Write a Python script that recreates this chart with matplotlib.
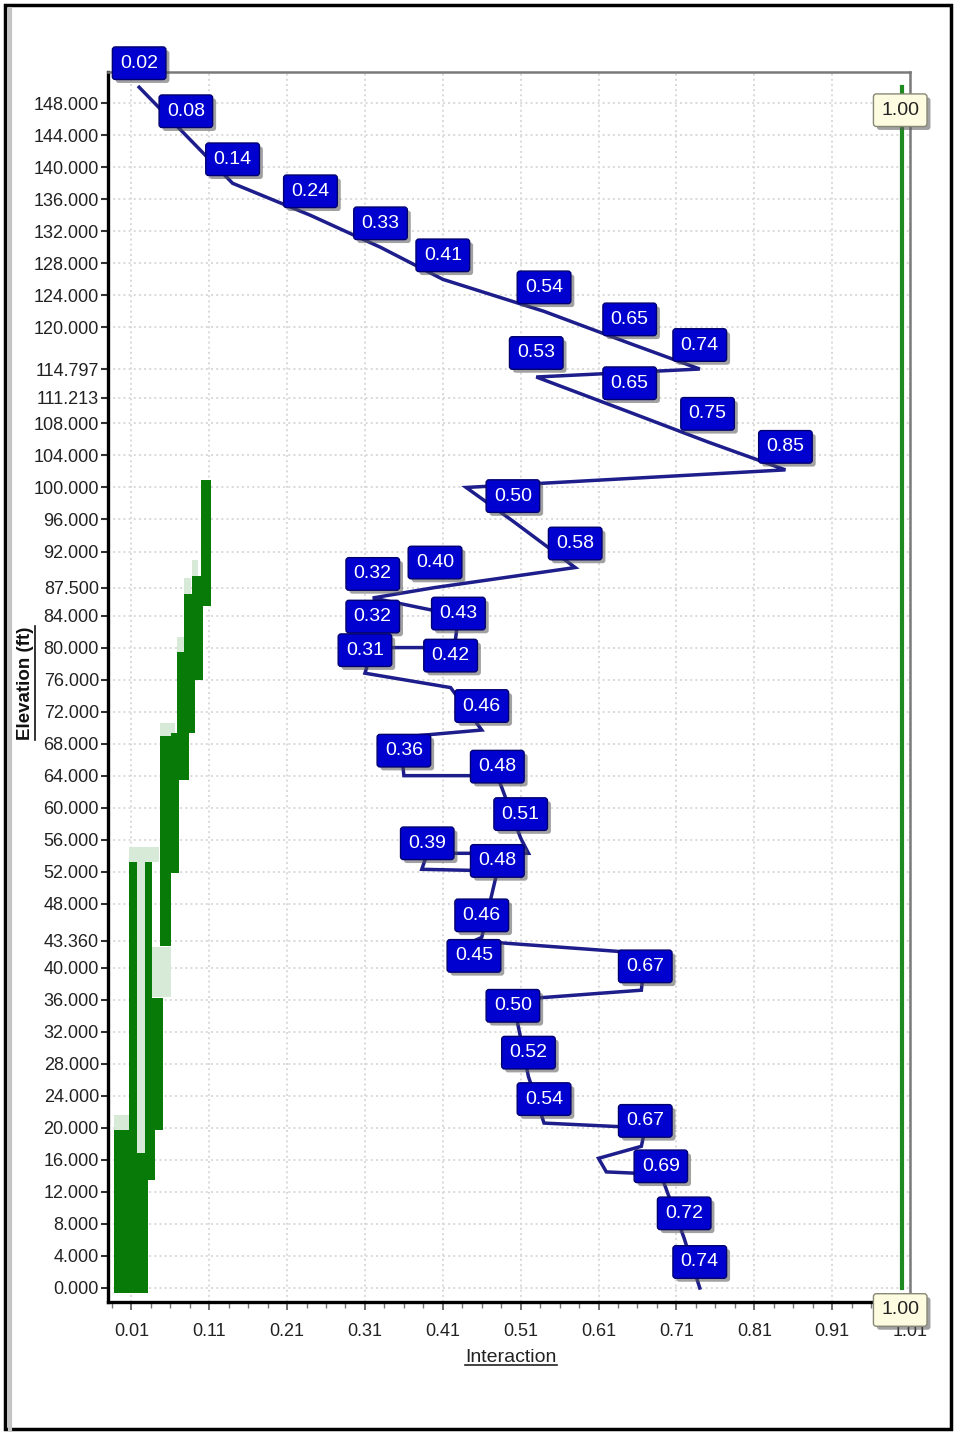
import matplotlib
matplotlib.use('Agg')
import matplotlib.pyplot as plt
import matplotlib.patheffects as pe
from matplotlib.patches import Rectangle
from matplotlib.lines import Line2D
import numpy as np

# interaction ratio along the elevation, top to bottom
ratio = [0.02, 0.08, 0.14, 0.24, 0.33, 0.41, 0.54, 0.65, 0.74, 0.53,
         0.65, 0.75, 0.85, 0.44, 0.50, 0.58, 0.40, 0.32, 0.43, 0.425,
         0.32, 0.31, 0.42, 0.46, 0.355, 0.36, 0.48, 0.51, 0.52, 0.39, 0.383,
         0.48, 0.46, 0.45, 0.67, 0.665, 0.50, 0.52, 0.54, 0.67, 0.665,
         0.61, 0.62, 0.69, 0.72, 0.74]
elev = [150.0, 144.0, 138.0, 134.0, 130.0, 126.0, 122.0, 118.0, 114.797, 113.8,
        109.4, 105.7, 102.2, 100.0, 95.8, 90.0, 87.5, 86.2, 84.0, 80.0,
        80.0, 76.8, 75.0, 69.7, 68.8, 64.0, 64.0, 56.2, 54.3, 54.3, 52.3,
        52.1, 43.8, 43.36, 41.8, 37.2, 36.0, 26.4, 20.6, 20.0, 17.7,
        16.2, 14.5, 14.2, 6.2, 0.0]
labelled = [1, 1, 1, 1, 1, 1, 1, 1, 1, 1,
            1, 1, 1, 0, 1, 1, 1, 1, 1, 0,
            1, 1, 1, 1, 0, 1, 1, 1, 0, 1, 0,
            1, 1, 1, 1, 0, 1, 1, 1, 1, 0,
            0, 0, 1, 1, 1]

# allowable line (unity)
limit_x = [1.0, 1.0]
limit_elev = [0.0, 150.0]

# structure profile drawn in green: elevation from/to, interaction from/to
dark_lo = [-0.6, -0.6, 19.7, 13.5, 19.7, 36.2, 42.7, 51.8, 63.4, 63.4, 69.3, 75.9, 85.2]
dark_hi = [19.7, 16.9, 53.2, 19.7, 36.2, 53.2, 68.9, 69.3, 69.3, 79.4, 86.7, 89.0, 100.9]
dark_x0 = [-0.012, 0.0177, 0.0074, 0.027, 0.027, 0.027, 0.0473, 0.0615, 0.0615, 0.0692, 0.0782, 0.0885, 0.0988]
dark_x1 = [0.0177, 0.032, 0.0177, 0.0409, 0.0512, 0.037, 0.0615, 0.0718, 0.0834, 0.0821, 0.0911, 0.1014, 0.1117]

pale_lo = [16.9, 53.2, 36.3, 19.7, 68.9, 79.4, 86.7, 89.0]
pale_hi = [53.2, 55.1, 42.6, 21.6, 70.6, 81.3, 88.7, 90.9]
pale_x0 = [0.0177, 0.0074, 0.037, -0.012, 0.0473, 0.0692, 0.0782, 0.0885]
pale_x1 = [0.027, 0.046, 0.0615, 0.0074, 0.066, 0.077, 0.087, 0.096]

yticks = [0, 4, 8, 12, 16, 20, 24, 28, 32, 36, 40, 43.36, 48, 52, 56, 60, 64, 68,
          72, 76, 80, 84, 87.5, 92, 96, 100, 104, 108, 111.213, 114.797, 120, 124,
          128, 132, 136, 140, 144, 148]
xticks = np.arange(0.01, 1.02, 0.1)

# label offsets (pixels above the point)
lab_dy = [24, 24, 24, 24, 24, 24, 24, 24, 24, 24,
          29, 28, 23, 0, 25, 24, 25, 24, 2, 0,
          31, 23, 32, 24, 0, 25, 9, 24, 0, 10, 0,
          10, 22, -15, -13, 0, -6, 24, 24, 7, 0,
          0, 0, 8, 25, 26]

FONT = ['Liberation Sans', 'DejaVu Sans']
plt.rcParams['font.family'] = FONT

W, H = 955, 1433
fig = plt.figure(figsize=(W / 100, H / 100), dpi=100)
fig.patch.set_facecolor('white')
ax = fig.add_axes([108 / W, 1 - 1302 / H, (910 - 108) / W, (1302 - 72) / H])

ax.set_xlim(-0.02, 1.01)
ax.set_ylim(-1.75, 151.9)

# green profile
ax.barh(pale_lo, np.subtract(pale_x1, pale_x0), height=np.subtract(pale_hi, pale_lo),
        left=pale_x0, align='edge', color='#d7ead8', zorder=1)
ax.barh(dark_lo, np.subtract(dark_x1, dark_x0), height=np.subtract(dark_hi, dark_lo),
        left=dark_x0, align='edge', color='#077a07', zorder=2)

# unity line
ax.plot(limit_x, limit_elev, color='#1f8a1f', lw=3, zorder=3)

# interaction line
ax.plot(ratio, elev, color='#1d1d8c', lw=2.5, zorder=4, solid_joinstyle='miter')

shadow = [pe.withSimplePatchShadow(offset=(2.5, -2.5), shadow_rgbFace='#555555', alpha=0.55)]
box_style = 'round,pad=0.4,rounding_size=0.15'
for i, (r, e) in enumerate(zip(ratio, elev)):
    if not labelled[i]:
        continue
    t = ax.annotate('%.2f' % r, (r, e), xytext=(0, lab_dy[i]),
                    textcoords='offset pixels', ha='center', va='center',
                    color='white', fontsize=14, zorder=6,
                    bbox=dict(boxstyle=box_style, fc='#0000cf', ec='#000070', lw=1.0))
    t.get_bbox_patch().set_path_effects(shadow)

for e, dy in zip(limit_elev, [-22, -23]):
    t = ax.annotate('%.2f' % 1.0, (1.0, e), xytext=(-2, dy),
                    textcoords='offset pixels', ha='center', va='center',
                    color='#222222', fontsize=14, zorder=6, annotation_clip=False,
                    bbox=dict(boxstyle=box_style, fc='#fdfbe0', ec='#888877', lw=1.0))
    t.get_bbox_patch().set_path_effects(shadow)

# axes styling
ax.set_yticks(yticks)
ax.set_yticklabels(['%.3f' % v for v in yticks])
ax.set_xticks(xticks)
ax.set_xticklabels(['%.2f' % v for v in xticks])
ax.set_xticks(np.arange(-0.015, 1.01, 0.025), minor=True)
ax.tick_params(axis='y', length=5, width=1.5, color='#333333', labelsize=13, pad=1.5,
               labelcolor='#222222')
ax.tick_params(axis='x', which='major', length=6, width=1.2, color='#555555', labelsize=13,
               pad=9, labelcolor='#222222')
ax.tick_params(axis='x', which='minor', length=4, width=1.0, color='#777777')
ax.grid(True, which='major', color='#d9d9d9', linestyle=':', lw=1.4, zorder=0)
ax.set_axisbelow(True)
for side in ['left', 'bottom']:
    ax.spines[side].set_color('black')
    ax.spines[side].set_linewidth(2.4)
for side in ['top', 'right']:
    ax.spines[side].set_color('#7a7a7a')
    ax.spines[side].set_linewidth(1.8)

xl = fig.text(511 / W, 1 - 1357 / H, 'Interaction', ha='center', va='center',
              fontsize=14, color='#222222')
yl = fig.text(25 / W, 1 - 683 / H, 'Elevation (ft)', ha='center', va='center',
              rotation=90, fontsize=13.5, fontweight='bold', color='#111111')

# underline the axis titles
fig.canvas.draw()
r = fig.canvas.get_renderer()
bb = xl.get_window_extent(r)
fig.add_artist(Line2D([bb.x0 / W, bb.x1 / W], [(bb.y0 + 1) / H, (bb.y0 + 1) / H],
                      color='#222222', lw=1.2))
bb = yl.get_window_extent(r)
fig.add_artist(Line2D([(bb.x1 + 1) / W, (bb.x1 + 1) / W], [bb.y0 / H, bb.y1 / H],
                      color='#111111', lw=1.2))

# outer frame of the screenshot
fig.add_artist(Rectangle((5 / W, 4 / H), 946 / W, 1424 / H, fill=False,
                         ec='black', lw=2.5))
fig.add_artist(Line2D([10 / W, 10 / W], [4 / H, 1424 / H], color='#c4c4c4', lw=3))

fig.savefig('out.png', dpi=100)
